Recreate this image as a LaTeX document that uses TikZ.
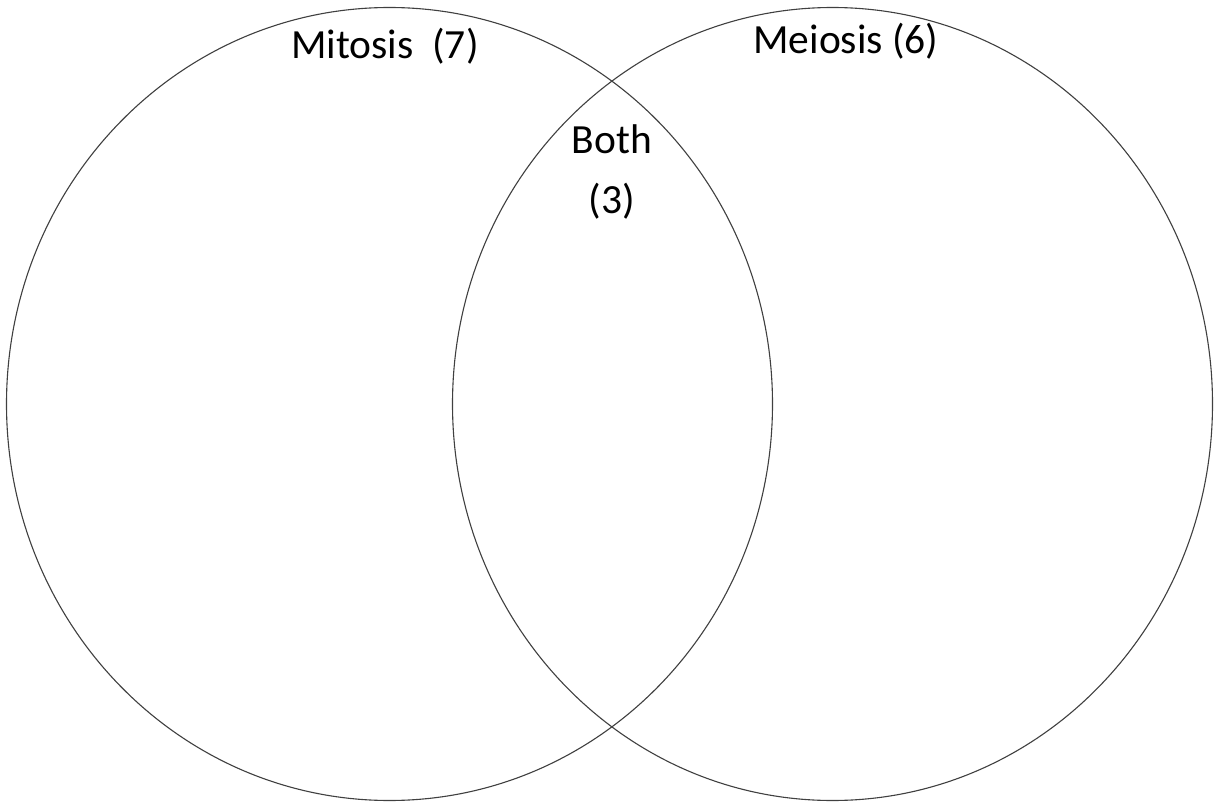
\documentclass[tikz,border=0pt]{standalone}
\usetikzlibrary{shapes.geometric}
\usepackage{fontspec}
\setmainfont{Carlito}
\begin{document}
\begin{tikzpicture}[x=1pt,y=-1pt,
  ring/.style={draw=black!75, line width=1.1pt, ellipse, inner sep=0pt},
  lbl/.style={font=\fontsize{41.5}{50}\selectfont, inner sep=0pt, anchor=base}]
\useasboundingbox (0,0) rectangle (1215,802);
\fill[white] (0,0) rectangle (1215,802);
\node[ring, minimum width=766, minimum height=793] (mit) at (389.5,404) {};
\node[ring, minimum width=760, minimum height=793] (mei) at (832.5,404) {};
\node[lbl] (tmit) at (385,59) {Mitosis\ \ (7)};
\node[lbl] (tmei) at (846,54) {Meiosis (6)};
\node[lbl] (tboth) at (612,154) {Both};
\node[lbl] (tthree) at (612,214) {(3)};
\end{tikzpicture}
\end{document}
